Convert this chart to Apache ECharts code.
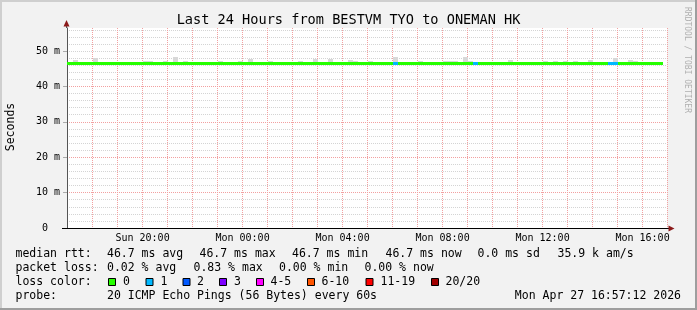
<!DOCTYPE html>
<html>
<head>
<meta charset="utf-8">
<script src="https://cdn.jsdelivr.net/npm/echarts@6/dist/echarts.min.js"></script>
<style>
  html, body { margin: 0; padding: 0; background: #f2f2f2; }
  #chart { width: 697px; height: 310px; }
</style>
</head>
<body>
<div id="chart"></div>
<script>
// 12 minute steps, first one starts Sun Apr 26 16:48 (local time)
var stepStart = new Date(2026, 3, 26, 16, 48).getTime();
var stepMs = 12 * 60 * 1000;
var axisStart = new Date(2026, 3, 26, 16, 58, 40).getTime();
var axisEnd = axisStart + 24 * 3600 * 1000;

// median rtt per step (ms)
var medianRtt = [
  46.7, 46.7, 46.7, 46.7, 46.7, 46.7, 46.7, 46.7, 46.7, 46.7,
  46.7, 46.7, 46.7, 46.7, 46.7, 46.7, 46.7, 46.7, 46.7, 46.7,
  46.7, 46.7, 46.7, 46.7, 46.7, 46.7, 46.7, 46.7, 46.7, 46.7,
  46.7, 46.7, 46.7, 46.7, 46.7, 46.7, 46.7, 46.7, 46.7, 46.7,
  46.7, 46.7, 46.7, 46.7, 46.7, 46.7, 46.7, 46.7, 46.7, 46.7,
  46.7, 46.7, 46.7, 46.7, 46.7, 46.7, 46.7, 46.7, 46.7, 46.7,
  46.7, 46.7, 46.7, 46.7, 46.7, 46.7, 46.7, 46.7, 46.7, 46.7,
  46.7, 46.7, 46.7, 46.7, 46.7, 46.7, 46.7, 46.7, 46.7, 46.7,
  46.7, 46.7, 46.7, 46.7, 46.7, 46.7, 46.7, 46.7, 46.7, 46.7,
  46.7, 46.7, 46.7, 46.7, 46.7, 46.7, 46.7, 46.7, 46.7, 46.7,
  46.7, 46.7, 46.7, 46.7, 46.7, 46.7, 46.7, 46.7, 46.7, 46.7,
  46.7, 46.7, 46.7, 46.7, 46.7, 46.7, 46.7, 46.7, 46.7, 46.7
];
// smoke (lowest / highest ping) per step (ms)
var smokeLow = [
  46.5, 46.5, 46.5, 46.5, 46.5, 46.5, 46.5, 46.5, 46.5, 46.5,
  46.5, 46.5, 46.5, 46.5, 46.5, 46.5, 46.5, 46.5, 46.5, 46.5,
  46.5, 46.5, 46.5, 46.5, 46.5, 46.5, 46.5, 46.5, 46.5, 46.5,
  46.5, 46.5, 46.5, 46.5, 46.5, 46.5, 46.5, 46.5, 46.5, 46.5,
  46.5, 46.5, 46.5, 46.5, 46.5, 46.5, 46.5, 46.5, 46.5, 46.5,
  46.5, 46.5, 46.5, 46.5, 46.5, 46.5, 46.5, 46.5, 46.5, 46.5,
  46.5, 46.5, 46.5, 46.5, 46.5, 46.5, 46.5, 46.5, 46.5, 46.5,
  46.5, 46.5, 46.5, 46.5, 46.5, 46.5, 46.5, 46.5, 46.5, 46.5,
  46.5, 46.5, 46.5, 46.5, 46.5, 46.5, 46.5, 46.5, 46.5, 46.5,
  46.5, 46.5, 46.5, 46.5, 46.5, 46.5, 46.5, 46.5, 46.5, 46.5,
  46.5, 46.5, 46.5, 46.5, 46.5, 46.5, 46.5, 46.5, 46.5, 46.5,
  46.5, 46.5, 46.5, 46.5, 46.5, 46.5, 46.5, 46.5, 46.5, 46.5
];
var smokeHigh = [
  46.9, 46.9, 47.6, 46.9, 46.9, 46.9, 48.0, 46.9, 46.9, 46.9,
  46.9, 46.9, 46.9, 46.9, 46.9, 46.9, 47.3, 47.3, 46.9, 46.9,
  47.3, 46.9, 48.2, 46.9, 47.3, 46.9, 46.9, 46.9, 46.9, 46.9,
  46.9, 47.3, 46.9, 46.9, 46.9, 47.3, 46.9, 47.7, 46.9, 46.9,
  46.9, 47.3, 46.9, 46.9, 46.9, 46.9, 46.9, 47.3, 46.9, 46.9,
  47.7, 46.9, 46.9, 47.7, 46.9, 46.9, 46.9, 47.5, 47.3, 46.9,
  46.9, 47.3, 46.9, 46.9, 46.9, 46.9, 48.2, 46.9, 46.9, 46.9,
  46.9, 47.3, 46.9, 46.9, 46.9, 46.9, 47.3, 47.3, 47.3, 46.9,
  48.2, 47.3, 46.9, 46.9, 46.9, 46.9, 46.9, 46.9, 46.9, 47.6,
  46.9, 46.9, 46.9, 46.9, 46.9, 46.9, 47.3, 46.9, 47.3, 46.9,
  47.3, 46.9, 47.3, 46.9, 46.9, 47.6, 46.9, 46.9, 46.9, 46.9,
  48.0, 46.9, 46.9, 47.6, 47.3, 46.9, 46.9, 46.9, 46.9, 46.9
];
// lost pings out of 20 per step
var lossCount = [
  0, 0, 0, 0, 0, 0, 0, 0, 0, 0,
  0, 0, 0, 0, 0, 0, 0, 0, 0, 0,
  0, 0, 0, 0, 0, 0, 0, 0, 0, 0,
  0, 0, 0, 0, 0, 0, 0, 0, 0, 0,
  0, 0, 0, 0, 0, 0, 0, 0, 0, 0,
  0, 0, 0, 0, 0, 0, 0, 0, 0, 0,
  0, 0, 0, 0, 0, 0, 1, 0, 0, 0,
  0, 0, 0, 0, 0, 0, 0, 0, 0, 0,
  0, 0, 1, 0, 0, 0, 0, 0, 0, 0,
  0, 0, 0, 0, 0, 0, 0, 0, 0, 0,
  0, 0, 0, 0, 0, 0, 0, 0, 0, 1,
  1, 0, 0, 0, 0, 0, 0, 0, 0, 0
];

var lossLabels = ['0', '1', '2', '3', '4-5', '6-10', '11-19', '20/20'];
var lossUpper = [0, 1, 2, 3, 5, 10, 19, 20];
var lossColors = ['#26ff00', '#00b8ff', '#0059ff', '#7e00ff', '#ff00ff', '#ff5500', '#ff0000', '#a10000'];

var yTickValues = [0, 10, 20, 30, 40, 50];
var yTickLabels = ['0  ', '10 m', '20 m', '30 m', '40 m', '50 m'];
var xTickLabels = ['Sun 20:00', 'Mon 00:00', 'Mon 04:00', 'Mon 08:00', 'Mon 12:00', 'Mon 16:00'];
var dayNames = ['Sun', 'Mon', 'Tue', 'Wed', 'Thu', 'Fri', 'Sat'];

var titleText = 'Last 24 Hours from BESTVM TYO to ONEMAN HK';
var rttStats = ['46.7 ms avg', '46.7 ms max', '46.7 ms min', '46.7 ms now', '0.0 ms sd', '35.9 k am/s'];
var lossStats = ['0.02 % avg', '0.83 % max', '0.00 % min', '0.00 % now'];
var probeText = '20 ICMP Echo Pings (56 Bytes) every 60s';
var stampText = 'Mon Apr 27 16:57:12 2026';

var MONO = 'DejaVu Sans Mono';
var GRID_MINOR = '#d4d4d4';
var GRID_MAJOR = '#f2a0a0';
var ARROW = '#8b1a1a';

function lossColor(n) {
  for (var i = 0; i < lossUpper.length; i++) {
    if (n <= lossUpper[i]) return lossColors[i];
  }
  return lossColors[lossColors.length - 1];
}

var smokeData = [];
var medianData = [];
for (var i = 0; i < medianRtt.length; i++) {
  var t0 = stepStart + i * stepMs;
  smokeData.push([t0, t0 + stepMs, smokeLow[i], smokeHigh[i]]);
  medianData.push([t0, t0 + stepMs, medianRtt[i], lossCount[i]]);
}

function clipTo(params, r) {
  var cs = params.coordSys;
  return echarts.graphic.clipRectByRect(r, { x: cs.x, y: cs.y, width: cs.width, height: cs.height });
}

function renderSmoke(params, api) {
  var a = api.coord([api.value(0), api.value(3)]);
  var b = api.coord([api.value(1), api.value(2)]);
  var x0 = Math.round(a[0]), x1 = Math.round(b[0]);
  var y0 = Math.round(a[1]), y1 = Math.round(b[1]);
  var shape = clipTo(params, { x: x0, y: y0, width: x1 - x0, height: y1 - y0 });
  return shape && { type: 'rect', shape: shape, style: { fill: '#d8d8d8' } };
}

function renderMedian(params, api) {
  var a = api.coord([api.value(0), api.value(2)]);
  var b = api.coord([api.value(1), api.value(2)]);
  var x0 = Math.round(a[0]), x1 = Math.round(b[0]);
  var yc = Math.round(a[1]);
  var shape = clipTo(params, { x: x0, y: yc - 1, width: x1 - x0, height: 3 });
  return shape && { type: 'rect', shape: shape, style: { fill: lossColor(api.value(3)) } };
}

function pad2(n) { return n < 10 ? '0' + n : '' + n; }

var graphics = [
  // frame
  { type: 'rect', shape: { x: 0, y: 0, width: 697, height: 2 }, style: { fill: '#cfcfcf' } },
  { type: 'rect', shape: { x: 0, y: 0, width: 2, height: 310 }, style: { fill: '#cfcfcf' } },
  { type: 'rect', shape: { x: 0, y: 308, width: 697, height: 2 }, style: { fill: '#9e9e9e' } },
  { type: 'rect', shape: { x: 695, y: 0, width: 2, height: 310 }, style: { fill: '#9e9e9e' } },
  // axis arrows
  { type: 'line', shape: { x1: 66.5, y1: 24, x2: 66.5, y2: 28 }, style: { stroke: '#555', lineWidth: 1 } },
  { type: 'polygon', shape: { points: [[66.5, 20], [63.5, 26.5], [69.5, 26.5]] }, style: { fill: ARROW } },
  { type: 'line', shape: { x1: 62, y1: 228.5, x2: 67, y2: 228.5 }, style: { stroke: '#000', lineWidth: 1 } },
  { type: 'line', shape: { x1: 667, y1: 228.5, x2: 670, y2: 228.5 }, style: { stroke: '#000', lineWidth: 1 } },
  { type: 'polygon', shape: { points: [[674.5, 228.5], [668.5, 225.5], [668.5, 231.5]] }, style: { fill: ARROW } },
  // y axis title
  { type: 'text', x: 11, y: 127, rotation: Math.PI / 2,
    style: { text: 'Seconds', font: '11.5px "' + MONO + '"', fill: '#000', align: 'center', verticalAlign: 'middle' } },
  // watermark
  { type: 'text', x: 687, y: 60, rotation: -Math.PI / 2,
    style: { text: 'RRDTOOL / TOBI OETIKER', font: '8px "' + MONO + '"', fill: '#b0b0b0', align: 'center', verticalAlign: 'middle' } }
];

function legendText(x, y, s, align) {
  graphics.push({ type: 'text', x: x, y: y,
    style: { text: s, font: '11.5px "' + MONO + '"', fill: '#000', align: align || 'left', verticalAlign: 'middle' } });
}

var rttX = [107, 199.5, 292, 385.5, 477.5, 557.5];
var lossX = [107, 193.5, 279, 364.5];
var boxX = [108, 145.5, 182.5, 219, 256, 307, 365.5, 431];
var boxLabelX = [123, 160.5, 197, 234, 270.5, 321.5, 380.5, 445.5];

legendText(15.5, 254.5, 'median rtt:');
rttStats.forEach(function (s, i) { legendText(rttX[i], 254.5, s); });
legendText(15.5, 268.5, 'packet loss:');
lossStats.forEach(function (s, i) { legendText(lossX[i], 268.5, s); });
legendText(15.5, 282.5, 'loss color:');
lossLabels.forEach(function (s, i) {
  graphics.push({ type: 'rect', shape: { x: boxX[i] + 0.5, y: 278.5, width: 7, height: 7 },
    style: { fill: lossColors[i], stroke: '#000', lineWidth: 1 } });
  legendText(boxLabelX[i], 282.5, s);
});
legendText(15.5, 296.5, 'probe:');
legendText(107, 296.5, probeText);
legendText(681, 296.5, stampText, 'right');

function xLabel(v) {
  var d = new Date(v);
  if (d.getMinutes() !== 0 || d.getSeconds() !== 0) return '';
  var s = dayNames[d.getDay()] + ' ' + pad2(d.getHours()) + ':00';
  return xTickLabels.indexOf(s) >= 0 ? s : '';
}

var chart = echarts.init(document.getElementById('chart'), null, { renderer: 'canvas' });
chart.setOption({
  backgroundColor: '#f2f2f2',
  animation: false,
  title: {
    text: titleText, left: 'center', top: 13, padding: 0,
    textStyle: { fontFamily: MONO, fontSize: 13.6, fontWeight: 'normal', color: '#000' }
  },
  grid: { left: 67, top: 28, width: 600, height: 200, backgroundColor: '#fff', show: true, borderWidth: 0 },
  xAxis: [
    {
      // hourly minor grid
      type: 'time', min: axisStart, max: axisEnd, z: 0,
      minInterval: 3600 * 1000, maxInterval: 3600 * 1000,
      axisLine: { show: false }, axisTick: { show: false }, axisLabel: { show: false },
      splitLine: { show: true, lineStyle: { color: GRID_MINOR, width: 1, type: [1, 1] } }
    },
    {
      // two-hourly major grid + labels
      type: 'time', min: axisStart, max: axisEnd, position: 'bottom', z: 1,
      minInterval: 7200 * 1000, maxInterval: 7200 * 1000,
      axisLine: { show: true, lineStyle: { color: '#000', width: 1 } },
      axisTick: { show: false },
      axisLabel: {
        fontFamily: MONO, fontSize: 10, color: '#000', margin: 5, hideOverlap: false,
        showMinLabel: false, showMaxLabel: false, formatter: xLabel
      },
      splitLine: { show: true, lineStyle: { color: GRID_MAJOR, width: 1, type: [1, 1] } }
    }
  ],
  yAxis: [
    {
      type: 'value', min: 0, max: 56.5, interval: 2, position: 'left', z: 0,
      axisLine: { show: false }, axisTick: { show: false }, axisLabel: { show: false },
      splitLine: { show: true, showMaxLine: false, lineStyle: { color: GRID_MINOR, width: 1, type: [1, 1] } }
    },
    {
      type: 'value', min: 0, max: 56.5, interval: 10, position: 'left', offset: 0, z: 1,
      axisLine: { show: true, lineStyle: { color: '#555', width: 1 } },
      axisTick: { show: true, length: 4, customValues: yTickValues.slice(1), lineStyle: { color: '#aaa' } },
      axisLabel: {
        fontFamily: MONO, fontSize: 10, color: '#000', margin: 7,
        formatter: function (v) {
          var k = yTickValues.indexOf(v);
          return k >= 0 ? yTickLabels[k] : '';
        }
      },
      splitLine: { show: true, showMaxLine: false, lineStyle: { color: GRID_MAJOR, width: 1, type: [1, 1] } }
    }
  ],
  series: [
    { type: 'custom', name: 'smoke', renderItem: renderSmoke, data: smokeData,
      xAxisIndex: 0, yAxisIndex: 0, encode: { x: [0, 1], y: [2, 3] }, silent: true, z: 2 },
    { type: 'custom', name: 'median', renderItem: renderMedian, data: medianData,
      xAxisIndex: 0, yAxisIndex: 0, encode: { x: [0, 1], y: 2 }, silent: true, z: 3 }
  ],
  graphic: graphics
});
</script>
</body>
</html>
